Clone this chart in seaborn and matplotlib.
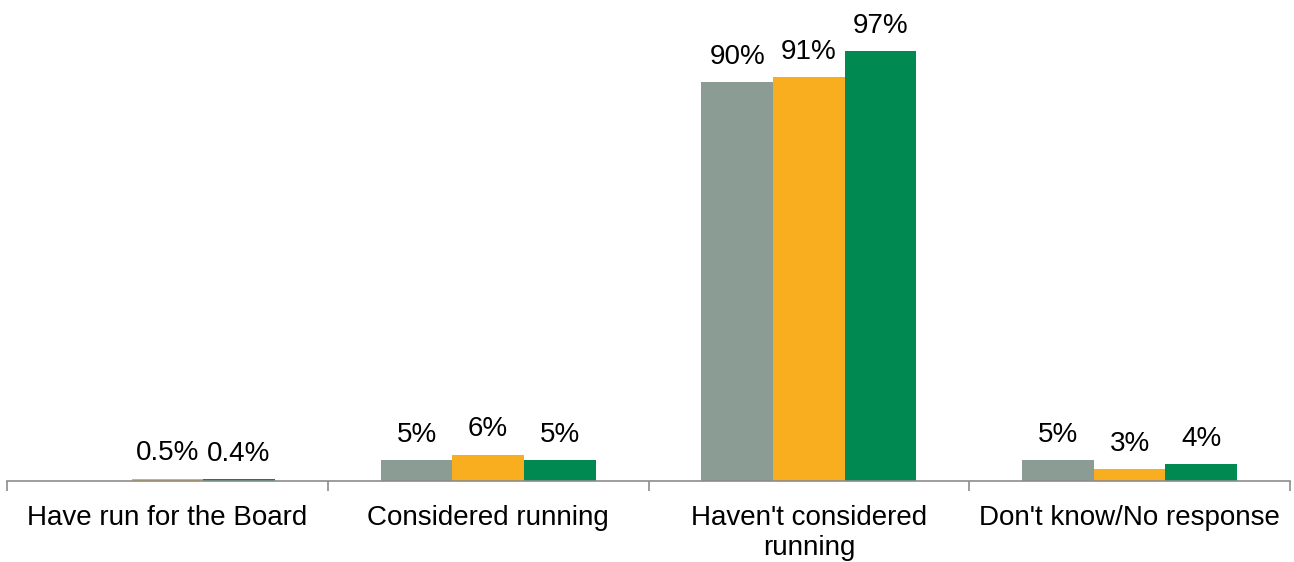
import numpy as np
import pandas as pd
import matplotlib
matplotlib.use("Agg")
import matplotlib.pyplot as plt
import seaborn as sns

categories = ["Have run for the Board", "Considered running",
              "Haven't considered\nrunning", "Don't know/No response"]
series_names = ["Wave 1", "Wave 2", "Wave 3"]
wave1 = [np.nan, 4.7, 90.0, 4.7]
wave2 = [0.5, 5.9, 91.1, 2.7]
wave3 = [0.4, 4.7, 97.0, 3.8]
labels1 = ["", "5%", "90%", "5%"]
labels2 = ["0.5%", "6%", "91%", "3%"]
labels3 = ["0.4%", "5%", "97%", "4%"]
colors = ["#8A9C94", "#F9AE1F", "#008A52"]

rows = []
for name, vals in zip(series_names, [wave1, wave2, wave3]):
    for c, v in zip(categories, vals):
        rows.append({"category": c, "series": name, "value": v})
df = pd.DataFrame(rows)
label_map = {s: l for s, l in zip(series_names, [labels1, labels2, labels3])}

sns.set_style("white")
plt.rcParams["font.family"] = ["Liberation Sans", "DejaVu Sans"]

fig = plt.figure(figsize=(12.94, 5.62), dpi=100)
ax = fig.add_axes([7/1294, 1 - 481/562, 1283/1294, 443/562])

sns.barplot(data=df, x="category", y="value", hue="series", order=categories,
            hue_order=series_names, palette=colors, width=0.67, gap=0,
            saturation=1, ax=ax, legend=False, errorbar=None, linewidth=0)

for i, cont in enumerate(ax.containers):
    labs = label_map[series_names[i]]
    for p in cont.patches:
        h = p.get_height()
        if np.isnan(h):
            continue
        xc = p.get_x() + p.get_width() / 2
        ci = int(round(xc))
        ax.annotate(labs[ci], (xc, h), xytext=(0, 9), textcoords="offset points",
                    ha="center", va="bottom", fontsize=20, color="black")

ax.set_xlim(-0.5, 3.5)
ax.set_ylim(0, 100)
ax.set_xlabel("")
ax.set_ylabel("")
ax.set_yticks([])
ax.set_xticks(range(4))
ax.set_xticklabels(categories, fontsize=20, color="black", linespacing=1.2)
ax.set_xticks([-0.5, 0.5, 1.5, 2.5, 3.5], minor=True)
ax.tick_params(axis="x", which="major", length=0, pad=17)
ax.tick_params(axis="x", which="minor", length=7, width=1.2, color="#8C8C8C",
               direction="out", bottom=True)
for s in ["top", "right", "left"]:
    ax.spines[s].set_visible(False)
ax.spines["bottom"].set_color("#8C8C8C")
ax.spines["bottom"].set_linewidth(1.2)

fig.savefig("out.png", dpi=100)
